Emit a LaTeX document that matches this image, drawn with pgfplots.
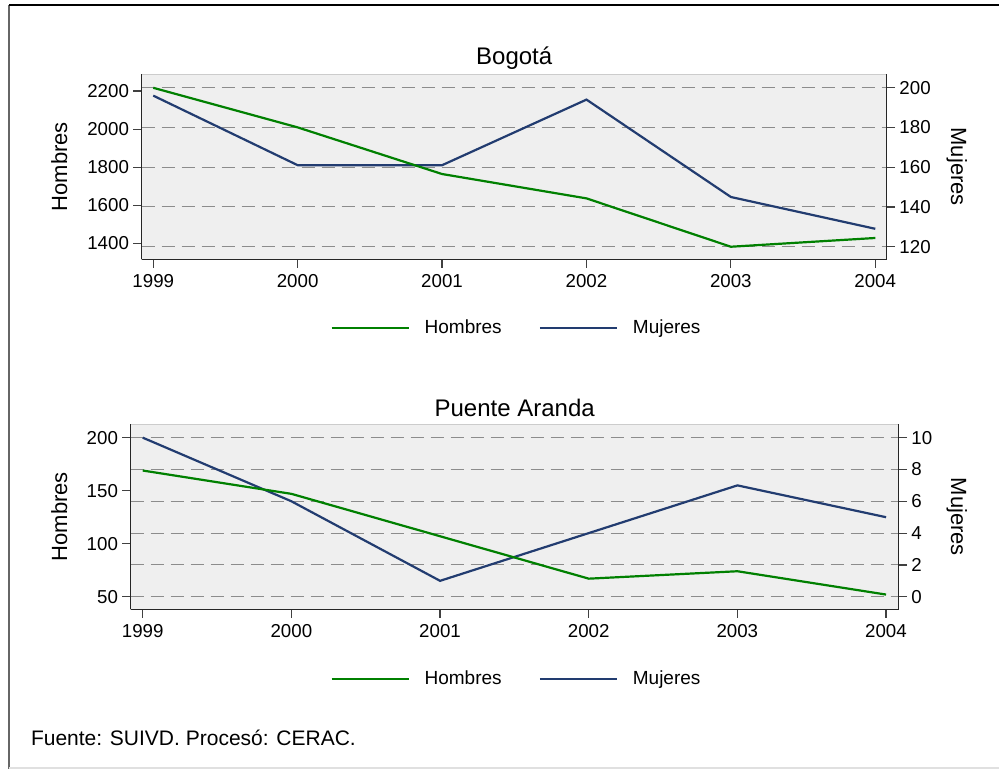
\documentclass[border=0pt]{standalone}
\usepackage{fontspec}
\setmainfont{Liberation Sans}
\usepackage{pgfplots}
\pgfplotsset{compat=1.18}

\definecolor{hgreen}{RGB}{0,128,0}
\definecolor{mnavy}{RGB}{34,60,112}
\definecolor{plotbg}{RGB}{239,239,239}
\definecolor{gridc}{RGB}{140,140,140}

\pgfplotsset{
  stataax/.style={
    scale only axis,
    /pgf/number format/assume math mode=true,
    /pgf/number format/1000 sep={},
    tick align=outside,
    major tick length=4.2pt,
    tick style={black!75, line width=0.6pt},
    axis line style={black!85, line width=0.7pt},
    ticklabel style={font=\fontsize{9.35}{11}\selectfont},
    label style={font=\fontsize{11}{13}\selectfont},
    xtick={1999,...,2004},
    x tick label style={inner sep=3.3pt},
    y tick label style={inner sep=2pt},
  },
  statalegend/.style={
    legend style={draw=none, fill=none, inner sep=0pt, legend columns=2,
      font=\fontsize{9.5}{11}\selectfont, nodes={inner sep=0pt},
      /tikz/every odd column/.append style={column sep=7.5pt},
      /tikz/every even column/.append style={column sep=18.5pt}},
    legend image code/.code={\draw[#1] (0pt,0pt) -- (38.5pt,0pt);},
  },
  hline/.style={hgreen, line width=1.1pt},
  mline/.style={mnavy, line width=1.1pt},
}

\begin{document}
\begin{tikzpicture}
\path[use as bounding box] (0pt,0pt) rectangle (499.5pt,-384.5pt);
% frame
\draw[black!60, line width=1pt] (4.5pt,-2.65pt) -- (4.5pt,-384.5pt);
\draw[black, line width=1pt] (4.5pt,-2.65pt) -- (499.5pt,-2.65pt);
\draw[black!12, line width=1pt] (4.5pt,-384pt) -- (499.5pt,-384pt);

% ---- Bogota: Mujeres (right axis) ----
\begin{axis}[stataax,
  at={(70.85pt,-129.65pt)}, anchor=south west, width=372.5pt, height=92.5pt,
  xmin=1998.92, xmax=2004.079, ymin=113.66, ymax=206.74,
  axis x line*=bottom, axis y line*=right,
  ytick={120,140,...,200},
  ymajorgrids, grid style={gridc, dash pattern=on 6.5pt off 3.5pt, line width=0.5pt},
  axis background/.style={fill=plotbg, draw=black!20},
  ylabel=Mujeres, ylabel style={at={(rel axis cs:1.094,0.5)}, anchor=center, rotate=180},
]
\addplot[mline] coordinates {(1999,196)(2000,161)(2001,161)(2002,194)(2003,145)(2004,129)};
\end{axis}
% ---- Bogota: Hombres (left axis) ----
\begin{axis}[stataax, statalegend,
  at={(70.85pt,-129.65pt)}, anchor=south west, width=372.5pt, height=92.5pt,
  xmin=1998.92, xmax=2004.079, ymin=1316, ymax=2288,
  axis x line=none, axis y line*=left,
  ytick={1400,1600,...,2200},
  ylabel=Hombres, ylabel style={at={(rel axis cs:-0.1106,0.5)}, anchor=center},
  title={Bogotá}, title style={at={(0.5,1)}, anchor=base, yshift=-1pt, font=\fontsize{12}{14}\selectfont},
  legend style={at={(rel axis cs:0.2528,-0.373)}, anchor=west},
]
\addplot[hline] coordinates {(1999,2217)(2000,2009)(2001,1764)(2002,1636)(2003,1382)(2004,1428)};
\addlegendentry{Hombres}
\addlegendimage{mline}
\addlegendentry{Mujeres}
\end{axis}

% ---- Puente Aranda: Mujeres (right axis) ----
\begin{axis}[stataax,
  at={(65.35pt,-304.65pt)}, anchor=south west, width=384pt, height=92.5pt,
  xmin=1998.919, xmax=2004.085, ymin=-0.79, ymax=10.84,
  axis x line*=bottom, axis y line*=right,
  ytick={0,2,...,10},
  ymajorgrids, grid style={gridc, dash pattern=on 6.5pt off 3.5pt, line width=0.5pt},
  axis background/.style={fill=plotbg, draw=black!20},
  ylabel=Mujeres, ylabel style={at={(rel axis cs:1.0755,0.5)}, anchor=center, rotate=180},
]
\addplot[mline] coordinates {(1999,10)(2000,6)(2001,1)(2002,4)(2003,7)(2004,5)};
\end{axis}
% ---- Puente Aranda: Hombres (left axis) ----
\begin{axis}[stataax, statalegend,
  at={(65.35pt,-304.65pt)}, anchor=south west, width=384pt, height=92.5pt,
  xmin=1998.919, xmax=2004.085, ymin=38.1, ymax=212.6,
  axis x line=none, axis y line*=left,
  ytick={50,100,...,200},
  ylabel=Hombres, ylabel style={at={(rel axis cs:-0.093,0.5)}, anchor=center},
  title={Puente Aranda}, title style={at={(0.5,1)}, anchor=base, yshift=-2.2pt, font=\fontsize{12}{14}\selectfont},
  legend style={at={(rel axis cs:0.2595,-0.375)}, anchor=west},
]
\addplot[hline] coordinates {(1999,169)(2000,147)(2001,107)(2002,67)(2003,74)(2004,52)};
\addlegendentry{Hombres}
\addlegendimage{mline}
\addlegendentry{Mujeres}
\end{axis}

\node[anchor=base west, inner sep=0pt, font=\fontsize{10.5}{12}\selectfont] at (15.3pt,-372.85pt) {Fuente: SUIVD. Procesó: CERAC.};
\end{tikzpicture}
\end{document}
